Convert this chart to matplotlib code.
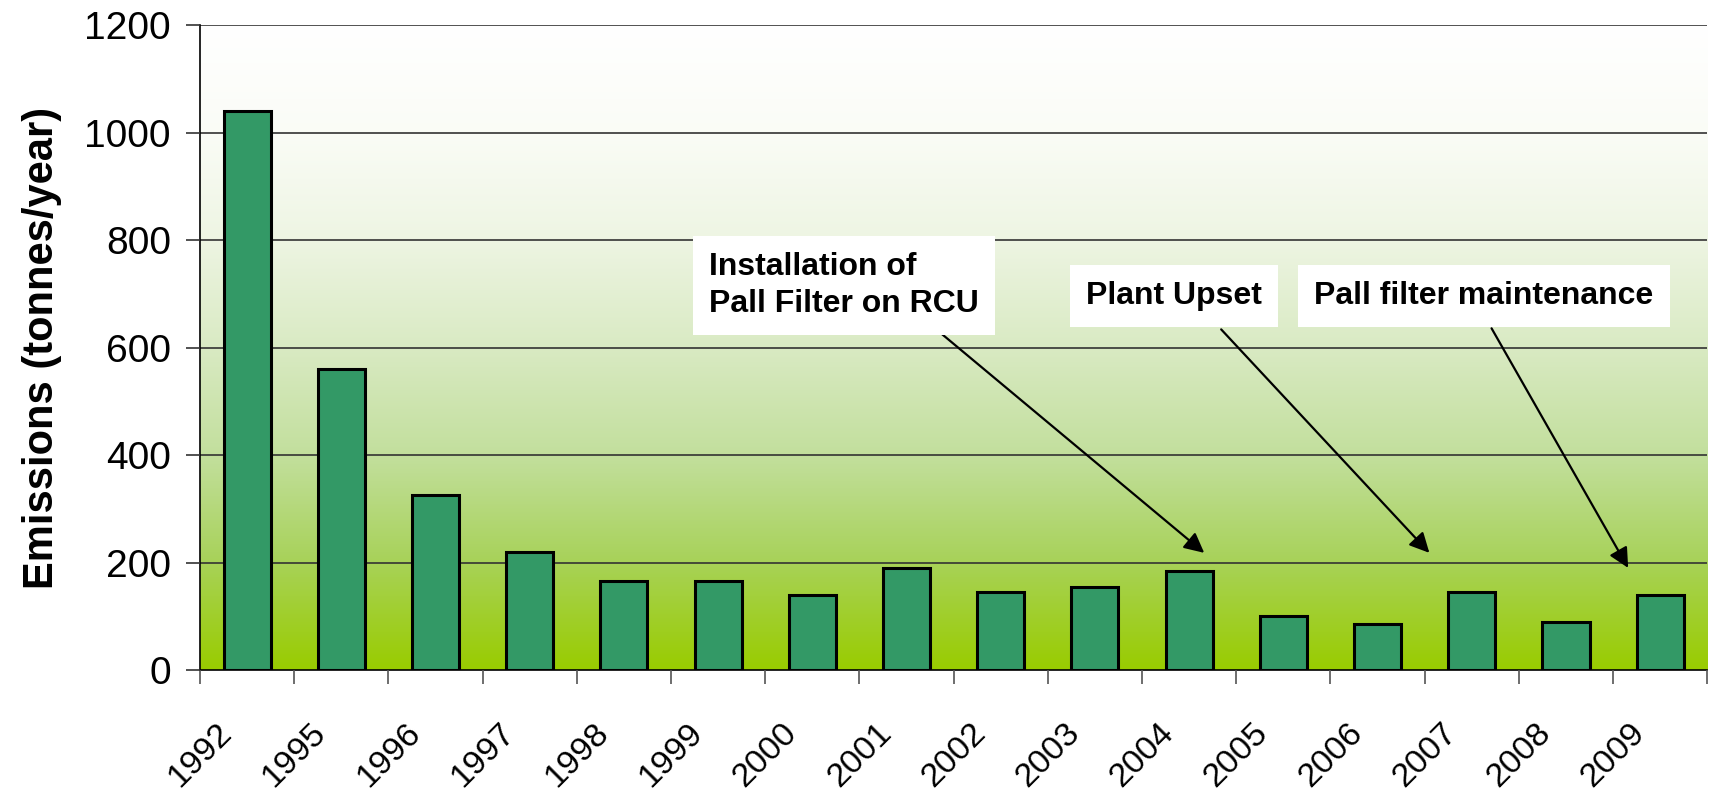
import matplotlib
matplotlib.use("Agg")
import matplotlib.pyplot as plt
import numpy as np
from matplotlib.colors import LinearSegmentedColormap
from matplotlib.transforms import ScaledTranslation

plt.rcParams['font.family'] = ['Liberation Sans', 'DejaVu Sans']

anios = ["1992", "1995", "1996", "1997", "1998", "1999", "2000", "2001",
         "2002", "2003", "2004", "2005", "2006", "2007", "2008", "2009"]
emisiones = [1040, 560, 325, 220, 165, 165, 140, 190,
             145, 155, 185, 100, 85, 145, 90, 140]

notas = ["Installation of\nPall Filter on RCU", "Plant Upset", "Pall filter maintenance"]
# posicion del texto (x categoria, y valor) y de la flecha (inicio, fin)
notas_texto = [(6.34, 715), (9.84, 696), (13.13, 696)]
notas_inicio = [(7.35, 629), (10.34, 634), (13.21, 636)]
notas_fin = [(10.16, 218), (12.55, 218), (14.66, 190)]

fig = plt.figure(figsize=(17.09, 7.91), dpi=100)
ax = fig.add_axes([0.117, 0.153, 0.882, 0.815])

x = np.arange(len(anios))
ax.set_xlim(-0.5, len(anios) - 0.5)
ax.set_ylim(0, 1200)

# fondo degradado blanco -> verde
fondo = LinearSegmentedColormap.from_list(
    "fondo", [(0.0, "#99cc00"), (0.17, "#a8d25a"), (0.33, "#c2df9c"),
              (0.5, "#d9eac3"), (0.67, "#eef5e3"), (0.83, "#fafcf6"), (1.0, "#ffffff")])
grad = np.linspace(0, 1, 256).reshape(-1, 1)
ax.imshow(grad, cmap=fondo, aspect="auto", origin="lower",
          extent=[-0.5, len(anios) - 0.5, 0, 1200], zorder=0)

ax.set_axisbelow(False)
for v in range(200, 1201, 200):
    ax.axhline(v, color="#333333", lw=1.2, zorder=1)

ax.bar(x, emisiones, width=0.5, color="#339966", edgecolor="black", linewidth=2.2, zorder=2)

ax.set_yticks(range(0, 1201, 200))
ax.tick_params(axis="y", labelsize=28, length=10, width=1.2, pad=11, color="#333333")

# marcas en los limites de categoria, etiquetas en el centro
ax.set_xticks(np.arange(-0.5, len(anios), 1.0))
ax.set_xticklabels([])
ax.tick_params(axis="x", which="major", length=10, width=1.2, direction="out", color="#555555")
ax.set_xticks(x, minor=True)
ax.set_xticklabels(anios, minor=True, rotation=45, ha="right", va="center",
                   rotation_mode="anchor", fontsize=24.5)
ax.tick_params(axis="x", which="minor", length=0, pad=42)
for lab in ax.get_xticklabels(minor=True):
    lab.set_transform(lab.get_transform() + ScaledTranslation(-0.2, 0, fig.dpi_scale_trans))

ax.set_ylabel("Emissions (tonnes/year)", fontsize=30, fontweight="bold", labelpad=16)

for s in ["top", "right"]:
    ax.spines[s].set_visible(False)
ax.spines["left"].set_linewidth(1.2)
ax.spines["bottom"].set_linewidth(1.2)

for nota, (tx, ty), ini, fin in zip(notas, notas_texto, notas_inicio, notas_fin):
    ax.text(tx, ty, nota, fontsize=23, fontweight="bold", ha="center", va="center",
            multialignment="left", linespacing=1.3, zorder=4,
            bbox=dict(boxstyle="square,pad=0.5", facecolor="white", edgecolor="none"))
    ax.annotate("", xy=fin, xytext=ini, zorder=3,
                arrowprops=dict(arrowstyle="-|>", color="black", lw=1.6, mutation_scale=30,
                                shrinkA=0, shrinkB=0))

fig.savefig("out.png", dpi=100)
